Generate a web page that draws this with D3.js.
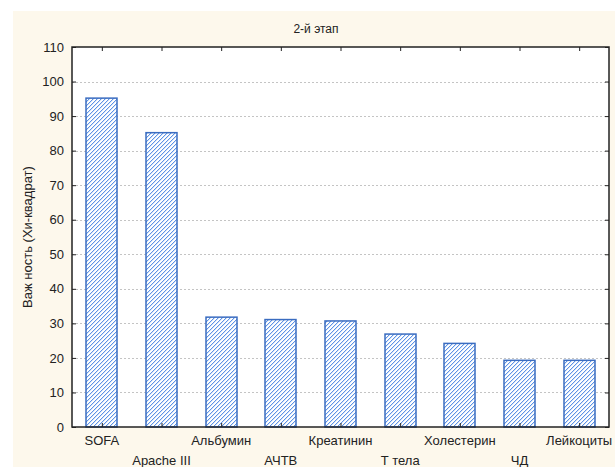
<!DOCTYPE html>
<html><head><meta charset="utf-8">
<script src="https://cdn.jsdelivr.net/npm/d3@7"></script>
<style>body{margin:0;background:#fff}svg{display:block}text{font-family:"Liberation Sans",Arial,sans-serif;fill:#222}</style>
</head><body><svg id="c" width="615" height="467"></svg>
<script>
const categories = ["SOFA","Apache III","Альбумин","АЧТВ","Креатинин","Т тела","Холестерин","ЧД","Лейкоциты"];
const values = [95.2, 85.2, 31.8, 31.1, 30.7, 26.9, 24.2, 19.3, 19.3];
const yTicks = [0,10,20,30,40,50,60,70,80,90,100,110];
const title = "2-й этап";
const yLabel = "Важ ность (Хи-квадрат)";

const svg = d3.select("#c");
const L = 72, R = 609, T = 47, B = 427;
svg.append("rect").attr("x",13).attr("y",11).attr("width",602).attr("height",456).attr("fill","#fdf8ec");
svg.append("rect").attr("x",L).attr("y",T).attr("width",R-L).attr("height",B-T).attr("fill","#fff");

const defs = svg.append("defs");
const pat = defs.append("pattern").attr("id","hatch").attr("patternUnits","userSpaceOnUse")
  .attr("width",4).attr("height",4);
pat.append("rect").attr("width",4).attr("height",4).attr("fill","#fff");
// pixel staircase diagonal with soft neighbour
[[3,0],[2,1],[1,2],[0,3]].forEach(([px,py])=>{
  pat.append("rect").attr("x",px).attr("y",py).attr("width",1).attr("height",1).attr("fill","#5d92e6");
  pat.append("rect").attr("x",(px+1)%4).attr("y",py).attr("width",1).attr("height",1).attr("fill","#d6e4f8");
});

const x = d3.scaleBand().domain(categories).range([L,R]).paddingInner(0.48).paddingOuter(0.24);
const y = d3.scaleLinear().domain([0,110]).range([B,T]);

// grid
svg.append("g").selectAll("line").data(yTicks.filter(t=>t>0&&t<110)).join("line")
  .attr("x1",L).attr("x2",R).attr("y1",d=>Math.round(y(d))+0.5).attr("y2",d=>Math.round(y(d))+0.5)
  .attr("stroke","#c4c4c4").attr("stroke-width",1).attr("stroke-dasharray","2,2");

// bars
svg.append("g").selectAll("rect").data(categories).join("rect")
  .attr("x",d=>Math.round(x(d))).attr("width",Math.round(x.bandwidth()))
  .attr("y",(d,i)=>y(values[i])).attr("height",(d,i)=>B-y(values[i]))
  .attr("fill","url(#hatch)").attr("stroke","#3a6cc0").attr("stroke-width",1.5);

// axes
const band = d3.scaleBand().domain(categories).range([L,R]);
const centers = d => band(d)+band.bandwidth()/2;
const axL = svg.append("g").attr("transform",`translate(${L},0)`)
  .call(d3.axisLeft(y).tickValues(yTicks).tickSize(-4).tickPadding(8));
const axR = svg.append("g").attr("transform",`translate(${R},0)`)
  .call(d3.axisRight(y).tickValues(yTicks).tickSize(-4).tickFormat(""));
const xb = d3.scalePoint().domain(categories).range([centers(categories[0]),centers(categories[8])]);
const axB = svg.append("g").attr("transform",`translate(0,${B})`)
  .call(d3.axisBottom(xb).tickSize(-4).tickFormat(""));
const axT = svg.append("g").attr("transform",`translate(0,${T})`)
  .call(d3.axisTop(xb).tickSize(-4).tickFormat(""));
[axL,axR,axB,axT].forEach(a=>{a.select(".domain").remove();a.selectAll("line").attr("stroke","#222");});
axL.selectAll("text").attr("font-size",13).attr("fill","#222").style("font-family","Liberation Sans, Arial");

svg.append("rect").attr("x",L).attr("y",T).attr("width",R-L).attr("height",B-T)
  .attr("fill","none").attr("stroke","#222").attr("stroke-width",1.5);

// x labels
svg.append("g").selectAll("text").data(categories).join("text")
  .attr("x",d=>centers(d)).attr("y",(d,i)=> i%2===0 ? 445 : 465)
  .attr("text-anchor","middle").attr("font-size",13).text(d=>d);

svg.append("text").attr("x",316).attr("y",33).attr("text-anchor","middle").attr("font-size",12).text(title);
svg.append("text").attr("transform","translate(32,237) rotate(-90)").attr("text-anchor","middle")
  .attr("font-size",13).text(yLabel);
</script></body></html>
